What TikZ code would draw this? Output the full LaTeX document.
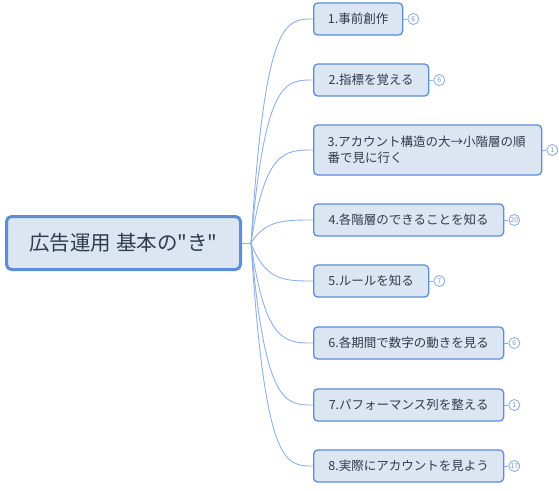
\documentclass[tikz,border=0pt]{standalone}
\usepackage{fontspec}
\newfontfamily\jpfont{Noto Sans CJK JP}
\definecolor{boxfill}{HTML}{DCE6F2}
\definecolor{boxline}{HTML}{5B8ED6}
\definecolor{conn}{HTML}{8DB1E3}
\definecolor{txt}{HTML}{2F3B4E}
\definecolor{badgetxt}{HTML}{7F98BE}
\tikzset{
  rootbox/.style={draw=boxline, line width=3pt, fill=boxfill, rounded corners=5pt,
    minimum width=234pt, minimum height=53pt, inner sep=0pt, text=txt, font=\jpfont\fontsize{20.5pt}{24pt}\selectfont},
  childbox/.style={draw=boxline, line width=1.3pt, fill=boxfill, rounded corners=4pt,
    minimum height=32pt, inner sep=0pt, text=txt, font=\jpfont\fontsize{12.5pt}{17pt}\selectfont, anchor=west},
  badge/.style={circle, draw=conn, line width=0.9pt, fill=white, minimum size=11pt, inner sep=0pt,
    text=badgetxt, font=\jpfont\fontsize{7pt}{7pt}\selectfont},
  conline/.style={draw=conn, line width=0.9pt},
}
\begin{document}
\begin{tikzpicture}[x=1pt,y=-1pt]
\useasboundingbox (0,0) rectangle (559,490);
\node[rootbox] (root) at (123.5,243) {広告運用 基本の"き"};
\coordinate (j) at (251,243);
\draw[conline] (root.east) -- (j);

\node[childbox, minimum width=89pt] (c1) at (313,19) {1.事前創作};
\node[childbox, minimum width=115pt] (c2) at (313,80) {2.指標を覚える};
\node[childbox, minimum width=228pt, minimum height=50pt, text width=200pt, align=left, inner xsep=14pt] (c3) at (313,150) {3.アカウント構造の大→小階層の順\\[-1pt]番で見に行く};
\node[childbox, minimum width=190pt] (c4) at (313,220) {4.各階層のできることを知る};
\node[childbox, minimum width=115pt] (c5) at (313,281) {5.ルールを知る};
\node[childbox, minimum width=190pt] (c6) at (313,343) {6.各期間で数字の動きを見る};
\node[childbox, minimum width=190pt] (c7) at (313,405) {7.パフォーマンス列を整える};
\node[childbox, minimum width=190pt] (c8) at (313,466) {8.実際にアカウントを見よう};

\foreach \c/\y in {c1/19,c2/80,c3/150,c4/220,c5/281,c6/343,c7/405,c8/466}{
  \draw[conline] (j) .. controls (265,\y) and (285,\y) .. (\c.west);
}

\node[badge] (b1) at ([xshift=10pt]c1.east) {6};
\node[badge] (b2) at ([xshift=10pt]c2.east) {6};
\node[badge] (b3) at ([xshift=10pt]c3.east) {1};
\node[badge] (b4) at ([xshift=10pt]c4.east) {20};
\node[badge] (b5) at ([xshift=10pt]c5.east) {7};
\node[badge] (b6) at ([xshift=10pt]c6.east) {6};
\node[badge] (b7) at ([xshift=10pt]c7.east) {1};
\node[badge] (b8) at ([xshift=10pt]c8.east) {17};
\foreach \i in {1,...,8}{
  \draw[conline] (c\i.east) -- (b\i.west);
}
\end{tikzpicture}
\end{document}
